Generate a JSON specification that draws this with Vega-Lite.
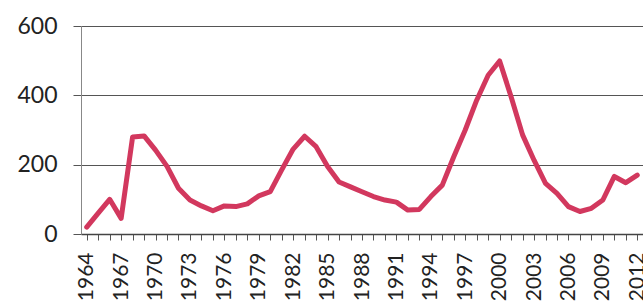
{
  "$schema": "https://vega.github.io/schema/vega-lite/v6.json",
  "width": 562,
  "height": 208,
  "autosize": {"type": "none"},
  "padding": {"left": 81, "top": 26, "right": 0, "bottom": 74},
  "background": "white",
  "config": {"view": {"stroke": null}, "font": "Lato"},
  "data": {"values": [
    {"year": 1964, "value": 20}, {"year": 1965, "value": 60}, {"year": 1966, "value": 100},
    {"year": 1967, "value": 45}, {"year": 1968, "value": 280}, {"year": 1969, "value": 283},
    {"year": 1970, "value": 242}, {"year": 1971, "value": 195}, {"year": 1972, "value": 132},
    {"year": 1973, "value": 98}, {"year": 1974, "value": 81}, {"year": 1975, "value": 67},
    {"year": 1976, "value": 81}, {"year": 1977, "value": 79}, {"year": 1978, "value": 87},
    {"year": 1979, "value": 110}, {"year": 1980, "value": 122}, {"year": 1981, "value": 185},
    {"year": 1982, "value": 245}, {"year": 1983, "value": 282}, {"year": 1984, "value": 252},
    {"year": 1985, "value": 195}, {"year": 1986, "value": 150}, {"year": 1987, "value": 136},
    {"year": 1988, "value": 122}, {"year": 1989, "value": 108}, {"year": 1990, "value": 98},
    {"year": 1991, "value": 92}, {"year": 1992, "value": 69}, {"year": 1993, "value": 71},
    {"year": 1994, "value": 108}, {"year": 1995, "value": 141}, {"year": 1996, "value": 223},
    {"year": 1997, "value": 300}, {"year": 1998, "value": 386}, {"year": 1999, "value": 458},
    {"year": 2000, "value": 499}, {"year": 2001, "value": 396}, {"year": 2002, "value": 286},
    {"year": 2003, "value": 213}, {"year": 2004, "value": 146}, {"year": 2005, "value": 117},
    {"year": 2006, "value": 79}, {"year": 2007, "value": 65}, {"year": 2008, "value": 74},
    {"year": 2009, "value": 98}, {"year": 2010, "value": 166}, {"year": 2011, "value": 148},
    {"year": 2012, "value": 170}
  ]},
  "mark": {"type": "line", "color": "#d2385e", "strokeWidth": 5, "strokeJoin": "round", "strokeCap": "round"},
  "encoding": {
    "x": {
      "field": "year", "type": "ordinal",
      "scale": {"type": "point", "padding": 0.5},
      "axis": {
        "title": null,
        "labelAngle": -90,
        "labelAlign": "right",
        "labelBaseline": "middle",
        "labelFontSize": 21,
        "labelColor": "#222",
        "labelPadding": 12,
        "labelExpr": "(datum.value - 1964) % 3 == 0 ? datum.label : ''",
        "labelOverlap": false,
        "domainColor": "#444",
        "domainWidth": 1.5,
        "tickColor": "#555",
        "tickSize": 6,
        "grid": false
      }
    },
    "y": {
      "field": "value", "type": "quantitative",
      "scale": {"domain": [0, 600], "nice": false},
      "axis": {
        "title": null,
        "values": [0, 200, 400, 600],
        "labelFontSize": 23,
        "labelColor": "#222",
        "labelPadding": 16,
        "tickSize": 8,
        "tickColor": "#555",
        "domainColor": "#888",
        "domainWidth": 1,
        "gridColor": "#555",
        "gridWidth": 1.2,
        "gridOpacity": 1
      }
    }
  }
}
